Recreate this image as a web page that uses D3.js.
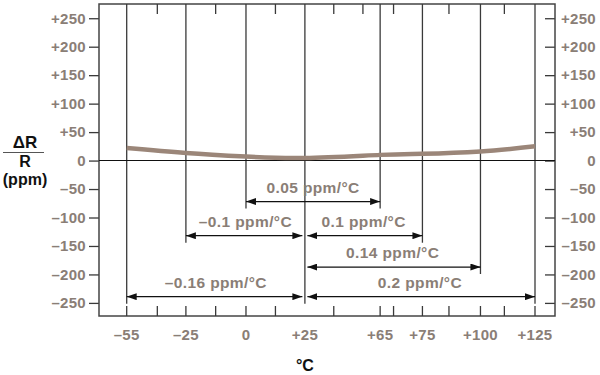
<!DOCTYPE html>
<meta charset="utf-8">
<head>
</head>
<body style="margin:0;background:#fff">
<style>
text { font-family: "Liberation Sans", Arial, sans-serif; font-weight: bold; }
.lbl { fill: #8a7e76; font-size: 15px; letter-spacing: 0.3px; }
.ann { font-size: 15.5px; letter-spacing: 0.4px; }
.ttl { fill: #111; font-size: 16px; }
.vline { stroke: #3a3a3a; stroke-width: 1.3px; }
.tick line { stroke: #3a3a3a; stroke-width: 1.3px; }
</style>
<svg width="600" height="375"></svg>
<script src="https://d3js.org/d3.v7.min.js"></script>
<script>
// temperatures on the x axis and their labels
var temps = [-55, -25, 0, 25, 65, 75, 100, 125];
var tempLabels = ["–55", "–25", "0", "+25", "+65", "+75", "+100", "+125"];
// resistance change (ppm) along the curve
var drift = [22, 13.5, 7, 4.5, 10, 12, 16, 25];
var yTicks = [-250, -200, -150, -100, -50, 0, 50, 100, 150, 200, 250];
// coefficient spans
var spanFrom = [0, 25, 25, 25, 25, 25];
var spanTo = [65, -25, 75, 100, -55, 125];
var spanLabels = ["0.05 ppm/°C", "–0.1 ppm/°C", "0.1 ppm/°C", "0.14 ppm/°C", "–0.16 ppm/°C", "0.2 ppm/°C"];
var spanLevels = [-72, -132, -132, -187, -239, -239];

var svg = d3.select("svg");
var box = {left: 99, right: 555, top: 4, bottom: 316};

// the x axis is drawn schematically, not to scale
var slot = d3.scaleLinear().domain([0, 14]).range([126.7, 535]);
var tempSlots = [0, 2.03, 4.09, 6.11, 8.69, 10.14, 12.13, 14];
var minorSlots = [1.05, 3.05, 5.1, 7.1, 8.1, 9.15, 11.05, 12.95];
var x = d3.scaleLinear().domain(temps).range(tempSlots.map(slot));
var y = d3.scaleLinear().domain([-273, 275]).range([box.bottom, box.top]);

var fmt = function(d) { return d > 0 ? "+" + d : d < 0 ? "–" + Math.abs(d) : "0"; };

// y axes
var gl = svg.append("g").attr("transform", "translate(" + box.left + ",0)")
  .call(d3.axisLeft(y).tickValues(yTicks).tickSize(10).tickPadding(3).tickFormat(fmt));
gl.select(".domain").remove();
gl.selectAll("text").attr("class", "lbl").attr("font-size", null).attr("font-family", null).attr("fill", null);

var gr = svg.append("g").attr("transform", "translate(" + box.right + ",0)")
  .call(d3.axisRight(y).tickValues(yTicks).tickSize(-10).tickFormat(fmt));
gr.select(".domain").remove();
gr.selectAll("text").attr("class", "lbl").attr("font-size", null).attr("font-family", null).attr("fill", null)
  .attr("text-anchor", "end").attr("x", 41);

// frame
svg.append("rect")
  .attr("x", box.left).attr("y", box.top)
  .attr("width", box.right - box.left).attr("height", box.bottom - box.top)
  .attr("fill", "none").attr("stroke", "#444").attr("stroke-width", 1.5);

// minor ticks top and bottom
svg.append("g").selectAll("line").data(minorSlots).enter().append("line")
  .attr("class", "vline")
  .attr("x1", function(d) { return slot(d); }).attr("x2", function(d) { return slot(d); })
  .attr("y1", box.top).attr("y2", box.top + 10);
var bottomTicks = minorSlots.filter(function(d) { return d !== 8.1; }).map(slot)
  .concat(temps.filter(function(t) { return t !== 25; }).map(x));
svg.append("g").selectAll("line").data(bottomTicks).enter().append("line")
  .attr("class", "vline")
  .attr("x1", function(d) { return d; }).attr("x2", function(d) { return d; })
  .attr("y1", box.bottom - 10).attr("y2", box.bottom);

// vertical guide lines, each down to its lowest span
svg.append("g").selectAll("line").data(temps).enter().append("line")
  .attr("class", "vline")
  .attr("x1", function(d) { return x(d); }).attr("x2", function(d) { return x(d); })
  .attr("y1", box.top)
  .attr("y2", function(t) {
    var lv = spanLevels.filter(function(l, i) { return spanFrom[i] === t || spanTo[i] === t; });
    return y(d3.min(lv)) + 7;
  });

// zero line
svg.append("line")
  .attr("x1", box.left).attr("x2", box.right)
  .attr("y1", y(0)).attr("y2", y(0))
  .attr("stroke", "#111").attr("stroke-width", 1.1);

// curve
svg.append("path")
  .datum(temps.map(function(t, i) { return [t, drift[i]]; }))
  .attr("fill", "none").attr("stroke", "#9b8679").attr("stroke-width", 4.5)
  .attr("d", d3.line().x(function(d) { return x(d[0]); }).y(function(d) { return y(d[1]); }).curve(d3.curveNatural));

// arrows
svg.append("defs").append("marker")
  .attr("id", "head").attr("viewBox", "0 0 10 7")
  .attr("refX", 10).attr("refY", 3.5)
  .attr("markerWidth", 10).attr("markerHeight", 7)
  .attr("markerUnits", "userSpaceOnUse")
  .attr("orient", "auto-start-reverse")
  .append("path").attr("d", "M0,0L10,3.5L0,7Z").attr("fill", "#111");

var spans = spanLabels.map(function(l, i) {
  return {from: spanFrom[i], to: spanTo[i], label: l, level: spanLevels[i]};
});
var sg = svg.append("g").selectAll("g").data(spans).enter().append("g");
sg.append("line")
  .attr("x1", function(d) {
    var dir = d.to > d.from ? 1 : -1;
    return x(d.from) + (d.from === 25 ? dir * 2.5 : 0);
  })
  .attr("x2", function(d) { return x(d.to); })
  .attr("y1", function(d) { return y(d.level); })
  .attr("y2", function(d) { return y(d.level); })
  .attr("stroke", "#111").attr("stroke-width", 1.3)
  .attr("marker-start", "url(#head)").attr("marker-end", "url(#head)");
sg.append("text")
  .attr("class", "lbl ann")
  .attr("text-anchor", "middle")
  .attr("x", function(d) { return (x(d.from) + x(d.to)) / 2; })
  .attr("y", function(d) { return y(d.level) - 9; })
  .text(function(d) { return d.label; });

// x labels
svg.append("g").selectAll("text").data(temps).enter().append("text")
  .attr("class", "lbl").attr("text-anchor", "middle")
  .attr("x", function(d) { return x(d); }).attr("y", 340)
  .text(function(d, i) { return tempLabels[i]; });

svg.append("text").attr("class", "ttl").attr("text-anchor", "middle")
  .attr("x", x(25)).attr("y", 371).text("°C");

// y title as a fraction
var yt = svg.append("g").attr("transform", "translate(25,0)");
yt.append("text").attr("class", "ttl").attr("text-anchor", "middle").attr("y", 148)
  .style("font-size", "17px").text("ΔR");
yt.append("line").attr("x1", -22).attr("x2", 19).attr("y1", 152.5).attr("y2", 152.5)
  .attr("stroke", "#555").attr("stroke-width", 1.2);
yt.append("text").attr("class", "ttl").attr("text-anchor", "middle").attr("y", 167).text("R");
yt.append("text").attr("class", "ttl").attr("text-anchor", "middle").attr("y", 185).text("(ppm)");
</script>
</body>
